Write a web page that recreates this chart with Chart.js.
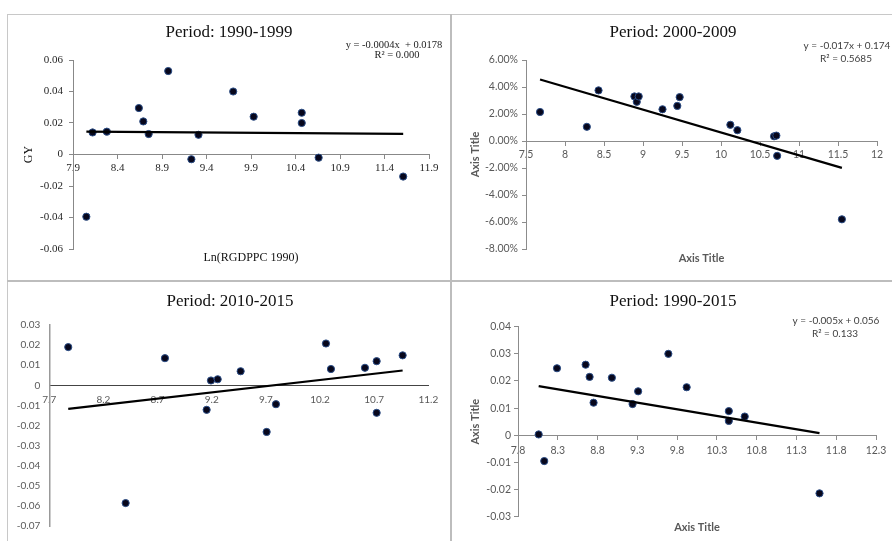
<!DOCTYPE html>
<html><head><meta charset="utf-8">
<script src="https://cdn.jsdelivr.net/npm/chart.js@4.4.0/dist/chart.umd.min.js"></script>
<style>
html,body{margin:0;padding:0;background:#fff;}
body{width:892px;height:541px;position:relative;overflow:hidden;}
canvas{position:absolute;left:0;top:0;}
.ln{position:absolute;background:#c8c8c8;}
</style></head><body>
<div class="ln" style="left:7px;top:14px;width:885px;height:1px"></div>
<div class="ln" style="left:7px;top:14px;width:1px;height:527px"></div>
<div class="ln" style="left:450px;top:14px;width:2px;height:527px;background:#bdbdbd"></div>
<div class="ln" style="left:7px;top:280px;width:885px;height:2px;background:#bdbdbd"></div>
<canvas id="c0" width="892" height="541"></canvas>
<canvas id="c1" width="892" height="541"></canvas>
<canvas id="c2" width="892" height="541"></canvas>
<canvas id="c3" width="892" height="541"></canvas>
<script>
// ---------- DATA ----------
const titles = ['Period: 1990-1999', 'Period: 2000-2009', 'Period: 2010-2015', 'Period: 1990-2015'];
const equations = ['y = -0.0004x  + 0.0178', 'y = -0.017x + 0.174', '', 'y = -0.005x + 0.056'];
const rSquared = ['R\u00B2 = 0.000', 'R\u00B2 = 0.5685', '', 'R\u00B2 = 0.133'];
const yAxisTitles = ['GY', 'Axis Title', '', 'Axis Title'];
const xAxisTitles = ['Ln(RGDPPC 1990)', 'Axis Title', '', 'Axis Title'];

const lnGdp1990_1999 = [8.05, 8.12, 8.28, 8.64, 8.69, 8.75, 8.97, 9.23, 9.31, 9.70, 9.93, 10.47, 10.47, 10.66, 11.61];
const gy1990_1999    = [-0.0395, 0.014, 0.0145, 0.0295, 0.021, 0.013, 0.053, -0.003, 0.0125, 0.040, 0.024, 0.0265, 0.020, -0.002, -0.014];

const lnGdp2000_2009 = [7.68, 8.28, 8.43, 8.89, 8.92, 8.945, 9.25, 9.44, 9.47, 10.12, 10.21, 10.68, 10.71, 10.72, 11.55];
const gy2000_2009    = [0.0215, 0.0105, 0.0375, 0.033, 0.029, 0.033, 0.0235, 0.026, 0.0325, 0.012, 0.008, 0.0035, 0.004, -0.011, -0.058];

const lnGdp2010_2015 = [7.875, 8.405, 8.768, 9.153, 9.193, 9.255, 9.467, 9.707, 9.793, 10.255, 10.301, 10.615, 10.723, 10.723, 10.963];
const gy2010_2015    = [0.019, -0.0586, 0.0135, -0.0122, 0.0024, 0.003, 0.007, -0.0232, -0.0094, 0.0208, 0.0081, 0.0087, 0.012, -0.0137, 0.0149];

const lnGdp1990_2015 = [8.06, 8.13, 8.29, 8.65, 8.70, 8.75, 8.98, 9.24, 9.31, 9.69, 9.92, 10.45, 10.45, 10.65, 11.59];
const gy1990_2015    = [0.0003, -0.0095, 0.0247, 0.026, 0.0215, 0.012, 0.0212, 0.0115, 0.0162, 0.030, 0.0177, 0.0089, 0.0053, 0.0069, -0.0214];

// trendlines (as drawn in the picture)
const trendSlope     = [-0.0004, -0.0169, 0.0062, -0.0049];
const trendIntercept = [0.0178, 0.1753, -0.0606, 0.0576];

// axis ranges: [min, max, step]
const xTicks = [[7.9, 11.9, 0.5], [7.5, 12, 0.5], [7.7, 11.2, 0.5], [7.8, 12.3, 0.5]];
const yTicks = [[-0.06, 0.06, 0.02], [-0.08, 0.06, 0.02], [-0.07, 0.03, 0.01], [-0.03, 0.04, 0.01]];

const xSeries = [lnGdp1990_1999, lnGdp2000_2009, lnGdp2010_2015, lnGdp1990_2015];
const ySeries = [gy1990_1999, gy2000_2009, gy2010_2015, gy1990_2015];

// ---------- LAYOUT / STYLE ----------
const W = 892, H = 541;
const SERIF = '"Liberation Serif", "Times New Roman", serif';
const SANS = 'Lato, "Liberation Sans", sans-serif';

const panels = [
  {areaL:73, areaR:429, areaT:60, areaB:249, padL:8, yTitleX:29, xTitleY:258,
   titleX:229, titleY:33, eqX:394, eqY:45, r2X:397, r2Y:55,
   tickFont:{family:SERIF, size:11}, tickColor:'#262626', titleFont:{family:SERIF, size:12}, titleColor:'#111',
   eqFont:'10.5px ' + SERIF, eqColor:'#222', tl:4, yPad:6, xPad:3, axisColor:'#888', yAxisColor:'#888', pct:false},
  {areaL:526, areaR:877, areaT:60, areaB:249, padL:455, yTitleX:475, xTitleY:258,
   titleX:673, titleY:33, eqX:847, eqY:46, r2X:846, r2Y:59,
   tickFont:{family:SANS, size:10.5}, tickColor:'#595959', titleFont:{family:SANS, size:11, weight:'bold'}, titleColor:'#595959',
   eqFont:'10px ' + SANS, eqColor:'#404040', tl:4, yPad:4, xPad:3.5, axisColor:'#8c8c8c', yAxisColor:'#8c8c8c', pct:true},
  {areaL:49.3, areaR:428.3, areaT:325, areaB:535, padL:8, yTitleX:0, xTitleY:0,
   titleX:230, titleY:302, eqX:0, eqY:0, r2X:0, r2Y:0,
   tickFont:{family:SANS, size:10}, tickColor:'#595959', titleFont:{family:SANS, size:11}, titleColor:'#595959',
   eqFont:'10px ' + SANS, eqColor:'#404040', tl:0, yPad:9, xPad:8.5, axisColor:'#444', yAxisColor:'#999', pct:false},
  {areaL:518, areaR:876, areaT:326.7, areaB:516.7, padL:455, yTitleX:475, xTitleY:527.7,
   titleX:673, titleY:302, eqX:836, eqY:321, r2X:835, r2Y:334,
   tickFont:{family:SANS, size:10.5}, tickColor:'#595959', titleFont:{family:SANS, size:11, weight:'bold'}, titleColor:'#595959',
   eqFont:'10px ' + SANS, eqColor:'#404040', tl:4, yPad:3, xPad:5, axisColor:'#8c8c8c', yAxisColor:'#8c8c8c', pct:false}
];

const panelText = {
  id: 'panelText',
  afterDraw(chart, args, opts) {
    const ctx = chart.ctx;
    (opts.items || []).forEach(it => {
      if (!it.text) return;
      ctx.save();
      ctx.font = it.font;
      ctx.fillStyle = it.color;
      ctx.textAlign = 'center';
      ctx.textBaseline = 'middle';
      ctx.fillText(it.text, it.x, it.y);
      ctx.restore();
    });
  }
};

function cleanNum(v) {
  const r = Math.round(v * 10000) / 10000;
  return r === 0 ? '0' : String(r);
}

function makeChart(i) {
  const p = panels[i];
  const xs = xSeries[i], ys = ySeries[i];
  const pts = xs.map((x, k) => ({x: x, y: ys[k]}));
  const x0 = Math.min(...xs), x1 = Math.max(...xs);
  const trend = [x0, x1].map(x => ({x: x, y: trendSlope[i] * x + trendIntercept[i]}));

  const tLh = p.titleFont.size * 1.2;
  const hasXT = !!xAxisTitles[i];
  const hasYT = !!yAxisTitles[i];
  const xtBottom = hasXT ? p.xTitleY + tLh / 2 : p.areaB;
  const padB = H - xtBottom;
  const xtHeight = xtBottom - p.areaB;
  const yWidth = p.areaL - p.padL;
  const yTitlePad = hasYT ? p.yTitleX - p.padL - tLh / 2 : 0;

  const gridTicks = {display: true, drawOnChartArea: false, drawTicks: p.tl > 0, tickLength: p.tl, color: p.axisColor};

  new Chart(document.getElementById('c' + i), {
    type: 'scatter',
    data: {
      datasets: [
        {data: trend, showLine: true, borderColor: '#000', borderWidth: 2.2, pointRadius: 0, fill: false},
        {data: pts, pointRadius: 3.6, pointBackgroundColor: '#07071c', pointBorderColor: '#2b4d86', pointBorderWidth: 1}
      ]
    },
    options: {
      responsive: false, animation: false, devicePixelRatio: 1, events: [],
      layout: {autoPadding: false, padding: {left: p.padL, top: p.areaT, right: W - p.areaR, bottom: padB}},
      plugins: {
        legend: {display: false}, tooltip: {enabled: false}, title: {display: false},
        panelText: {items: [
          {text: titles[i], x: p.titleX, y: p.titleY, font: '17px ' + SERIF, color: '#111'},
          {text: equations[i], x: p.eqX, y: p.eqY, font: p.eqFont, color: p.eqColor},
          {text: rSquared[i], x: p.r2X, y: p.r2Y, font: p.eqFont, color: p.eqColor}
        ]}
      },
      scales: {
        x: {
          type: 'linear', position: {y: 0},
          min: xTicks[i][0], max: xTicks[i][1],
          afterFit: a => { a.height = 0; },
          grid: Object.assign({}, gridTicks),
          border: {display: true, color: p.axisColor, width: 1},
          ticks: {stepSize: xTicks[i][2], autoSkip: false, maxRotation: 0, maxTicksLimit: 30,
                  padding: p.xPad, font: p.tickFont, color: p.tickColor, callback: v => cleanNum(v)}
        },
        xt: {
          type: 'linear', position: 'bottom', display: hasXT, min: 0, max: 1,
          afterFit: a => { a.height = xtHeight; },
          grid: {display: false, drawTicks: false}, border: {display: false},
          ticks: {display: false},
          title: {display: hasXT, text: xAxisTitles[i], font: p.titleFont, color: p.titleColor, padding: {top: 0, bottom: 0}}
        },
        y: {
          type: 'linear', position: 'left',
          min: yTicks[i][0], max: yTicks[i][1],
          afterFit: a => { a.width = yWidth; },
          grid: Object.assign({}, gridTicks),
          border: {display: true, color: p.yAxisColor, width: i === 2 ? 1.5 : 1},
          ticks: {stepSize: yTicks[i][2], autoSkip: false, maxTicksLimit: 30, padding: p.yPad,
                  font: p.tickFont, color: p.tickColor,
                  callback: v => p.pct ? (v * 100).toFixed(2) + '%' : cleanNum(v)},
          title: {display: hasYT, text: yAxisTitles[i], font: p.titleFont, color: p.titleColor, padding: {top: yTitlePad, bottom: 0}}
        }
      }
    },
    plugins: [panelText]
  });
}

for (let i = 0; i < 4; i++) makeChart(i);
</script>
</body></html>
